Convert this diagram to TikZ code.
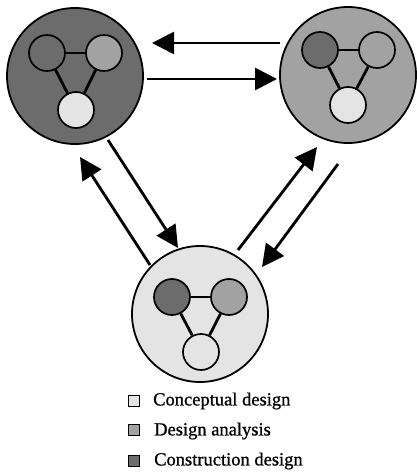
\documentclass[tikz,border=0pt]{standalone}
\usepackage{fontspec}
\setmainfont{Liberation Serif}
\newfontfamily\keyfont[FakeBold=0.9]{Liberation Serif}
\usetikzlibrary{arrows.meta}
\definecolor{conceptual}{HTML}{E4E4E4}
\definecolor{analysis}{HTML}{A2A2A2}
\definecolor{construction}{HTML}{6C6C6C}
\tikzset{
  phase/.style={circle, draw=black, line width=1.8pt, minimum size=136pt, inner sep=0pt},
  task/.style={circle, draw=black, line width=1.7pt, minimum size=36pt, inner sep=0pt},
  link/.style={line width=2.8pt},
  flow/.style={line width=2.8pt, -{Triangle[length=22pt, width=22pt]}},
  key/.style={draw=black, line width=1.9pt, minimum size=11pt, inner sep=0pt},
  keytext/.style={anchor=west, inner sep=0pt, font=\keyfont\fontsize{18.5}{20}\selectfont}
}
\begin{document}
\begin{tikzpicture}[x=1pt, y=-1pt]
\useasboundingbox (0,0) rectangle (417,476);

% three design phases
\node[phase, fill=construction] (P1) at (75,76) {};
\node[phase, fill=analysis] (P2) at (348,75) {};
\node[phase, fill=conceptual] (P3) at (200,314) {};

% tasks inside the construction phase
\node[task, fill=construction] (a1) at (47,53) {};
\node[task, fill=analysis] (a2) at (104,53) {};
\node[task, fill=conceptual] (a3) at (76,110) {};
% tasks inside the analysis phase
\node[task, fill=construction] (b1) at (320,50) {};
\node[task, fill=analysis] (b2) at (377,50) {};
\node[task, fill=conceptual] (b3) at (348,105) {};
% tasks inside the conceptual phase
\node[task, fill=construction] (c1) at (172,297) {};
\node[task, fill=analysis] (c2) at (229,297) {};
\node[task, fill=conceptual] (c3) at (201,352) {};

\foreach \t in {a,b,c}{
  \draw[link] (\t1) -- (\t2);
  \draw[link] (\t1) -- (\t3);
  \draw[link] (\t2) -- (\t3);
}

% arrow end points between the phases
\coordinate (r1) at (280,43);  \coordinate (l1) at (152,43);
\coordinate (l2) at (147,79);  \coordinate (r2) at (277,79);
\coordinate (d1) at (108,140); \coordinate (d2) at (178,248);
\coordinate (u1) at (150,265); \coordinate (u2) at (80,157);
\coordinate (e1) at (238,250); \coordinate (e2) at (317,147);
\coordinate (f1) at (338,164); \coordinate (f2) at (262,267);

\draw[flow] (r1) -- (l1);
\draw[flow] (l2) -- (r2);
\draw[flow] (d1) -- (d2);
\draw[flow] (u1) -- (u2);
\draw[flow] (e1) -- (e2);
\draw[flow] (f1) -- (f2);

% legend
\node[key, fill=conceptual] (k1) at (134,401) {};
\node[key, fill=analysis] (k2) at (134,430) {};
\node[key, fill=construction] (k3) at (134,461) {};
\node[keytext] (t1) at (153,401) {Conceptual design};
\node[keytext] (t2) at (154,431) {Design analysis};
\node[keytext] (t3) at (154,461) {Construction design};
\end{tikzpicture}
\end{document}
